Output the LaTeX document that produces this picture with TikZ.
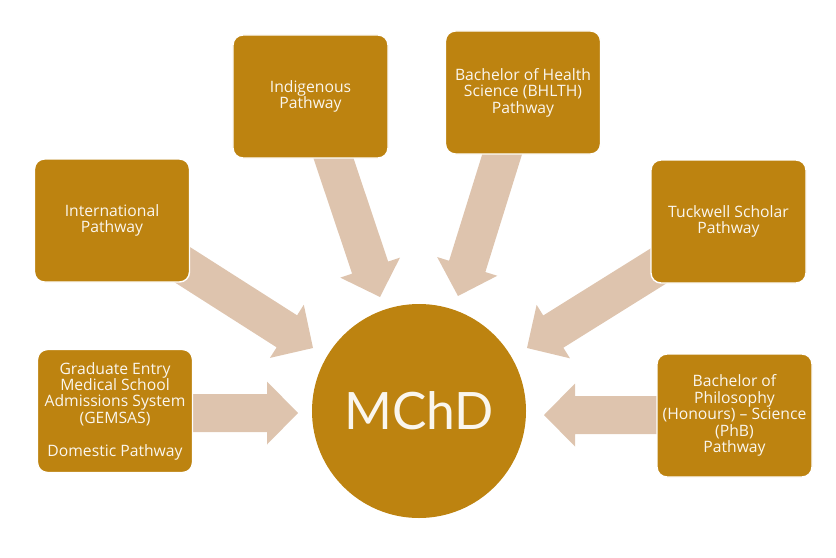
\documentclass[tikz,border=0pt]{standalone}
\usepackage{fontspec}
\setmainfont{Open Sans}
\newfontfamily\hubfont{Lato}
\usetikzlibrary{calc}
\definecolor{boxgold}{RGB}{189,131,16}
\definecolor{arrowtan}{RGB}{222,196,174}
\definecolor{txtwhite}{RGB}{250,246,238}
\newcommand\blockarrow[2]{%
  \coordinate (h#1) at ($(#2)!0.93cm!(#1)$);
  \fill[arrowtan] ($(#1)!0.57cm!90:(#2)$) -- ($(h#1)!0.57cm!90:(#2)$) -- ($(h#1)!0.945cm!90:(#2)$) -- (#2)
    -- ($(h#1)!0.945cm!-90:(#2)$) -- ($(h#1)!0.57cm!-90:(#2)$) -- ($(#1)!0.57cm!-90:(#2)$) -- cycle;}
\tikzset{
  pathbox/.style={fill=boxgold, draw=white, line width=1.2pt, rounded corners=0.3cm,
    minimum width=4.65cm, minimum height=3.69cm, inner sep=0pt, align=center,
    text=txtwhite, font=\fontsize{13.4}{14}\selectfont},
  hub/.style={circle, fill=boxgold, minimum size=6.42cm, inner sep=0pt,
    text=txtwhite, font=\hubfont\fontsize{44}{48}\selectfont}
}
\begin{document}
\begin{tikzpicture}[x=0.03cm, y=-0.03cm]
\useasboundingbox (0,0) rectangle (836,558);
% arrow start and tip points
\coordinate (sInt) at (164,253);  \coordinate (tInt) at (313,348);
\coordinate (sInd) at (325,133);  \coordinate (tInd) at (380,297);
\coordinate (sBH)  at (510,129);  \coordinate (tBH)  at (458,296);
\coordinate (sTu)  at (676,255);  \coordinate (tTu)  at (527,348);
\coordinate (sGE)  at (170,413);  \coordinate (tGE)  at (298,413);
\coordinate (sPh)  at (680,415);  \coordinate (tPh)  at (544,415);
\blockarrow{sInt}{tInt}
\blockarrow{sInd}{tInd}
\blockarrow{sBH}{tBH}
\blockarrow{sTu}{tTu}
\blockarrow{sGE}{tGE}
\blockarrow{sPh}{tPh}
% hub
\node[hub] (mchd) at (419,411) {MChD};
% pathway boxes
\node[pathbox] (intl) at (112,220.5) {International\\Pathway};
\node[pathbox] (indig) at (310.5,96.5) {Indigenous\\Pathway};
\node[pathbox] (bhlth) at (523,92.5) {Bachelor of Health\\Science (BHLTH)\\Pathway};
\node[pathbox] (tuck) at (728.5,221.5) {Tuckwell Scholar\\Pathway};
\node[pathbox] (gem) at (115,411) {Graduate Entry\\Medical School\\Admissions System\\(GEMSAS)\\[14pt]Domestic Pathway};
\node[pathbox] (phb) at (734.5,415.5) {Bachelor of\\Philosophy\\(Honours) -- Science\\(PhB)\\Pathway};
\end{tikzpicture}
\end{document}
